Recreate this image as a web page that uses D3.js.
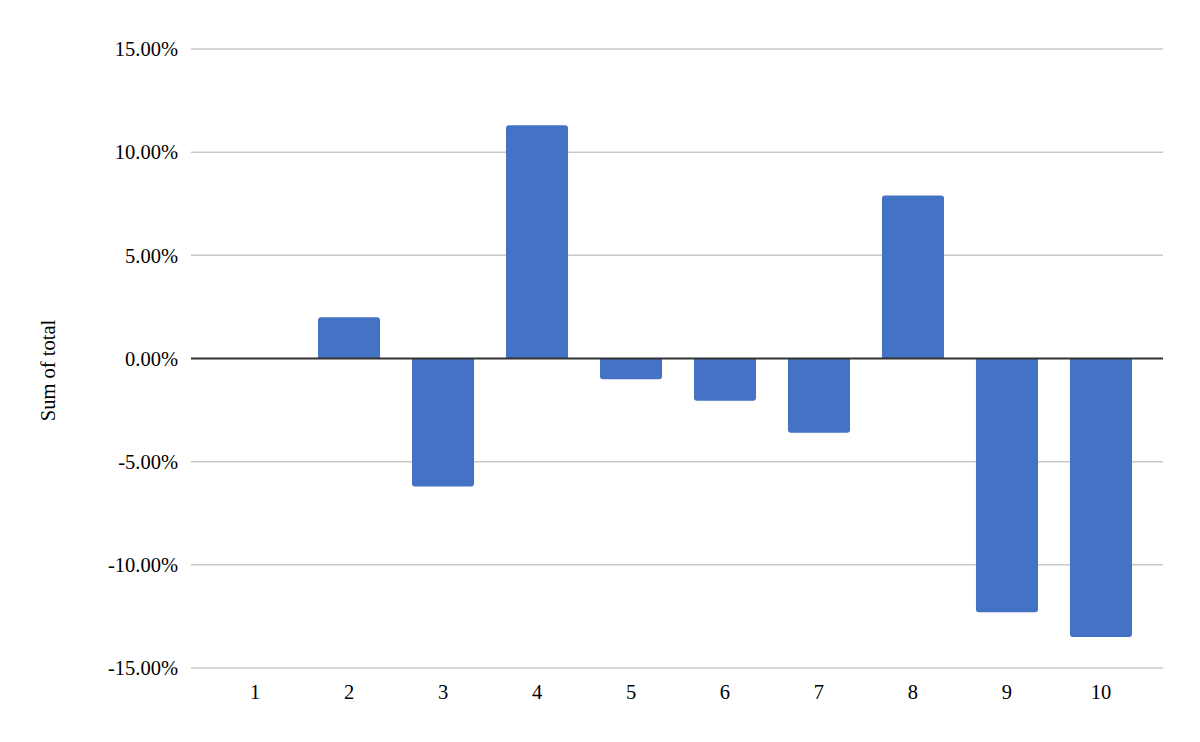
<!DOCTYPE html>
<html><head><meta charset="utf-8">
<script src="https://cdn.jsdelivr.net/npm/d3@7"></script>
<style>body{margin:0;background:#fff;} text{font-family:"Liberation Serif","Times New Roman",serif;}</style>
</head><body>
<svg id="chart" width="1200" height="742"></svg>
<script>
const categories = ["1","2","3","4","5","6","7","8","9","10"];
const values = [0, 0.0200, -0.0620, 0.1130, -0.0100, -0.0205, -0.0360, 0.0790, -0.1230, -0.1350];
const yTicks = [-0.15, -0.10, -0.05, 0, 0.05, 0.10, 0.15];
const yTitle = "Sum of total";

(function () {
const svg = d3.select("#chart");
const pLeft = 191, pRight = 1163, pTop = 49, pBottom = 668;
const x = d3.scaleBand().domain(categories).range([193, 1163]).paddingInner(0.34).paddingOuter(0.33);
const y = d3.scaleLinear().domain([-0.15, 0.15]).range([pBottom, pTop]);
const fmt = v => d3.format(".2%")(v).replace("\u2212", "-");

// gridlines
svg.append("g").selectAll("line").data(yTicks.filter(d => d !== 0)).join("line")
  .attr("x1", pLeft).attr("x2", pRight)
  .attr("y1", d => y(d)).attr("y2", d => y(d))
  .attr("stroke", "#c8c8c8").attr("stroke-width", 1.5);

// y labels
svg.append("g").selectAll("text").data(yTicks).join("text")
  .attr("x", 178).attr("y", d => y(d)).attr("dy", "0.35em")
  .attr("text-anchor", "end").attr("font-size", 20.5).attr("fill", "#000")
  .text(d => fmt(d));

// bars with rounded far end
const r = 3;
function barPath(d, i) {
  const x0 = x(categories[i]), w = x.bandwidth();
  const y0 = y(0), y1 = y(d);
  if (d === 0) return "";
  const s = d > 0 ? 1 : -1;
  const rr = Math.min(r, Math.abs(y1 - y0));
  return `M${x0},${y0} L${x0},${y1 + s*rr} Q${x0},${y1} ${x0+rr},${y1} L${x0+w-rr},${y1} Q${x0+w},${y1} ${x0+w},${y1 + s*rr} L${x0+w},${y0} Z`;
}
svg.append("g").selectAll("path").data(values).join("path")
  .attr("d", (d, i) => barPath(d, i)).attr("fill", "#4472c4");

// zero line
svg.append("line").attr("x1", pLeft).attr("x2", pRight)
  .attr("y1", y(0)).attr("y2", y(0)).attr("stroke", "#333").attr("stroke-width", 2);

// x labels
svg.append("g").selectAll("text").data(categories).join("text")
  .attr("x", d => x(d) + x.bandwidth()/2).attr("y", 699)
  .attr("text-anchor", "middle").attr("font-size", 20.5).attr("fill", "#000")
  .text(d => d);

// y title
svg.append("text").attr("transform", `translate(55,${(pTop+pBottom)/2 + 12}) rotate(-90)`)
  .attr("text-anchor", "middle").attr("font-size", 20.5).attr("fill", "#000").text(yTitle);
})();
</script>
</body></html>
